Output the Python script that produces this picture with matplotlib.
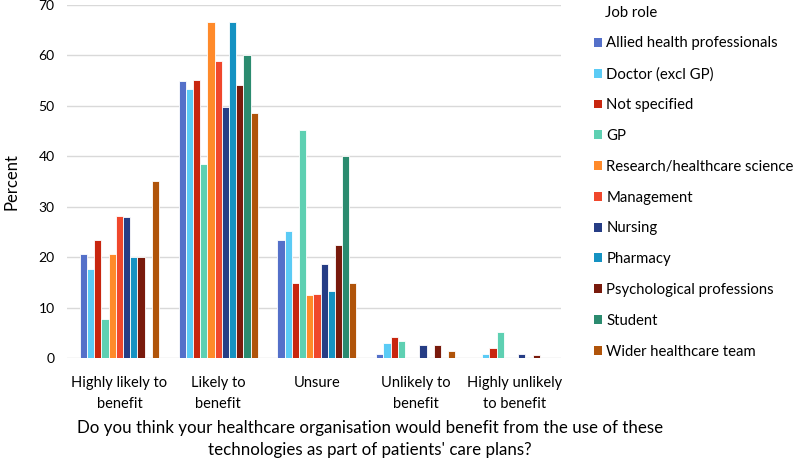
import numpy as np
from matplotlib import pyplot as plt
from matplotlib.patches import Patch

plt.rcParams['font.family'] = ['Lato', 'DejaVu Sans']

categories = ["Highly likely to\nbenefit", "Likely to\nbenefit", "Unsure",
              "Unlikely to\nbenefit", "Highly unlikely\nto benefit"]

roles = ["Allied health professionals", "Doctor (excl GP)", "Not specified", "GP",
         "Research/healthcare science", "Management", "Nursing", "Pharmacy",
         "Psychological professions", "Student", "Wider healthcare team"]

colours = ["#5470C9", "#5BCBF5", "#C8260F", "#5ED0B2", "#FF8A2A", "#F0472C",
           "#263D85", "#1592C2", "#791A0C", "#2B8B6F", "#B0540A"]

# percent per role, one value per category
allied = [20.7, 54.9, 23.4, 0.8, 0.0]
doctor = [17.7, 53.3, 25.1, 2.9, 0.7]
not_specified = [23.4, 55.2, 14.9, 4.2, 2.0]
gp = [7.7, 38.4, 45.2, 3.4, 5.1]
research = [20.7, 66.7, 12.5, 0.0, 0.0]
management = [28.1, 58.9, 12.7, 0.0, 0.0]
nursing = [28.0, 49.8, 18.7, 2.6, 0.7]
pharmacy = [20.0, 66.7, 13.3, 0.0, 0.0]
psych = [20.0, 54.1, 22.5, 2.5, 0.5]
student = [0.0, 60.0, 40.0, 0.0, 0.0]
wider = [35.1, 48.6, 14.9, 1.3, 0.0]

series = [allied, doctor, not_specified, gp, research, management,
          nursing, pharmacy, psych, student, wider]

fig = plt.figure(figsize=(7.98, 4.59), dpi=100)
ax = fig.add_axes([0.084, 0.22, 0.619, 0.769])

x = np.arange(len(categories))
n = len(series)
slot = 0.8 / n
for i, vals in enumerate(series):
    ax.bar(x - 0.4 + slot * (i + 0.5), vals, width=slot, color=colours[i],
           edgecolor='white', linewidth=0.6, zorder=3)

ax.set_xlim(-0.53, len(categories) - 0.53)
ax.set_ylim(0, 70)
ax.set_yticks(range(0, 71, 10))
ax.yaxis.grid(True, color='#D9D9D9', linewidth=1, zorder=0)
for s in ax.spines.values():
    s.set_visible(False)
ax.tick_params(length=0, labelsize=10, colors='#000000')
ax.tick_params(axis='y', pad=9)
ax.set_xticks(x)
ax.set_xticklabels(categories, fontsize=10.5, linespacing=1.6)
ax.tick_params(axis='x', pad=13)
ax.set_ylabel("Percent", fontsize=12)
ax.yaxis.set_label_coords(-0.097, 0.5)
ax.set_xlabel("Do you think your healthcare organisation would benefit from the use of these\n"
              "technologies as part of patients' care plans?", fontsize=12.2, labelpad=7,
              linespacing=1.45)
ax.xaxis.label.set_x(0.613)

handles = [Patch(facecolor=c, edgecolor='none') for c in colours]
fig.text(605 / 798, 1 - 13 / 459, "Job role", fontsize=10.7, va='center', ha='left')
leg = fig.legend(handles, roles, loc='upper left', bbox_to_anchor=(0.727, 0.950),
                 frameon=False, fontsize=10.7,
                 handlelength=0.55, handleheight=0.55, handletextpad=0.3,
                 labelspacing=1.13)

plt.savefig("out.png", dpi=100)
